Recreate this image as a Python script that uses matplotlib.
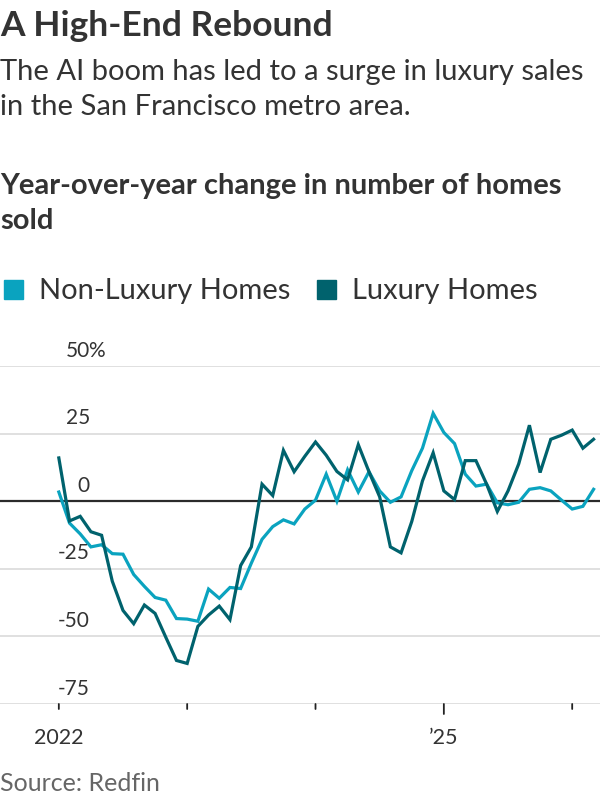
import matplotlib
matplotlib.use("Agg")
import matplotlib.pyplot as plt
import numpy as np

plt.rcParams['font.family'] = ['Lato', 'DejaVu Sans']

# monthly, Jan 2022 onward
months = np.arange(51)

non_luxury = [3.4, -8.1, -12.1, -16.9, -16.1, -19.4, -19.6, -27.1, -31.5, -35.6,
              -36.6, -43.4, -43.6, -44.4, -32.5, -35.9, -31.9, -32.3, -22.9, -14.1,
              -9.4, -6.9, -8.4, -2.9, 0.4, 10.0, 0.0, 11.6, 3.4, 10.9,
              3.8, -0.4, 1.6, 11.3, 19.6, 32.5, 25.4, 21.3, 10.0, 5.6,
              6.3, -0.6, -1.3, -0.4, 4.4, 5.0, 3.8, 0.4, -2.9, -1.9,
              4.4]

luxury = [16.0, -7.3, -5.6, -11.3, -12.6, -29.6, -40.4, -45.3, -38.4, -41.5,
          -50.3, -58.9, -60.0, -46.3, -42.1, -38.8, -43.8, -23.8, -16.9, 6.3,
          2.1, 18.8, 10.9, 16.6, 21.9, 17.0, 11.0, 7.9, 20.9, 10.9,
          1.6, -16.9, -19.1, -7.5, 7.5, 17.9, 3.8, 0.6, 15.0, 15.0,
          6.3, -3.8, 3.8, 13.8, 28.1, 10.6, 22.9, 24.4, 26.3, 19.6,
          22.9]

yticks = [50, 25, 0, -25, -50, -75]
ytick_labels = ['50%', '25', '0', '-25', '-50', '-75']
xticks = [0, 12, 24, 36, 48]
xtick_labels = {0: '2022', 36: '\u201925'}

light = '#0aa3bf'
dark = '#00626d'
text_col = '#333333'

fig = plt.figure(figsize=(6, 8), dpi=100)
ax = fig.add_axes([0, 0.12, 1, 0.4225])

for y in yticks:
    if y == 0:
        continue
    ax.axhline(y, color='#dddddd', lw=1.3, zorder=1)
ax.axhline(0, color='#2b2b2b', lw=1.6, zorder=2)

ax.plot(months, non_luxury, color=light, lw=2.3, zorder=3, solid_joinstyle='miter')
ax.plot(months, luxury, color=dark, lw=2.3, zorder=4, solid_joinstyle='miter')

ax.set_xlim(-5.5, 50.6)
ax.set_ylim(-75, 50)
ax.axis('off')

# y labels sit above their gridlines, numbers right aligned, % hangs out
for y, lab in zip(yticks, ytick_labels):
    ax.text(2.9, y + 2.0, lab.replace('%', ''), ha='right', va='bottom',
            fontsize=15, color=text_col)
    if '%' in lab:
        ax.text(2.75, y + 2.0, '%', ha='left', va='bottom', fontsize=15,
                color=text_col)

# x ticks
for x in xticks:
    ln = 10 if x == 36 else 5
    ax.annotate('', xy=(x, -75), xycoords='data', xytext=(0, -ln / 1.389),
                textcoords='offset points',
                arrowprops=dict(arrowstyle='-', color='#222222', lw=1.3,
                                shrinkA=0, shrinkB=0))
    if x in xtick_labels:
        ax.annotate(xtick_labels[x], xy=(x, -75), xytext=(0, -29),
                    textcoords='offset points', ha='center', va='baseline',
                    fontsize=15.5, color=text_col)

fig.text(0.0, 1 - 36 / 800, 'A High-End Rebound', fontsize=25.5, fontweight='bold',
         color=text_col, va='baseline')
fig.text(0.0, 1 - 80 / 800, 'The AI boom has led to a surge in luxury sales',
         fontsize=21, color=text_col, va='baseline')
fig.text(0.0, 1 - 115 / 800, 'in the San Francisco metro area.',
         fontsize=21, color=text_col, va='baseline')
fig.text(0.0, 1 - 194 / 800, 'Year-over-year change in number of homes',
         fontsize=21, fontweight='bold', color=text_col, va='baseline')
fig.text(0.0, 1 - 229 / 800, 'sold', fontsize=21, fontweight='bold',
         color=text_col, va='baseline')

# legend
fig.patches.append(plt.Rectangle((4 / 600, 1 - 299 / 800), 19 / 600, 19 / 800,
                                 transform=fig.transFigure, color=light))
fig.text(39 / 600, 1 - 299 / 800, 'Non-Luxury Homes', fontsize=21,
         color=text_col, va='baseline')
fig.patches.append(plt.Rectangle((317 / 600, 1 - 299 / 800), 19 / 600, 19 / 800,
                                 transform=fig.transFigure, color=dark))
fig.text(352 / 600, 1 - 299 / 800, 'Luxury Homes', fontsize=21,
         color=text_col, va='baseline')

fig.text(0.0, 1 - 791 / 800, 'Source: Redfin', fontsize=18, color='#666666',
         va='baseline')

fig.savefig('out.png', dpi=100)
